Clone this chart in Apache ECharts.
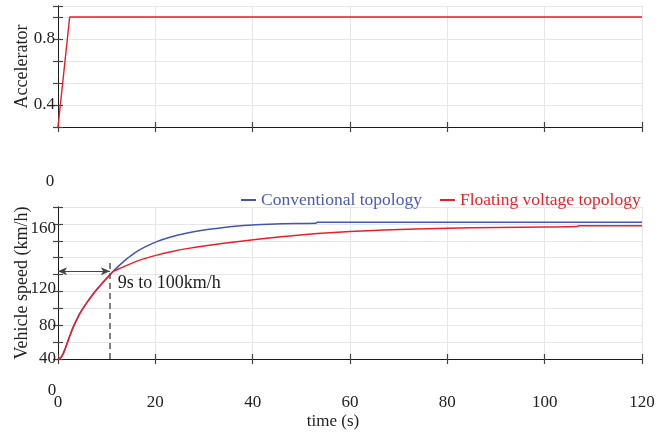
<!DOCTYPE html>
<html>
<head>
<meta charset="utf-8">
<script src="https://cdn.jsdelivr.net/npm/echarts@6/dist/echarts.min.js"></script>
<style>
  html, body { margin: 0; padding: 0; background: #fff; }
  #chart { width: 658px; height: 432px; }
</style>
</head>
<body>
<div id="chart"></div>
<script>
// Accelerator pedal position
const accelTime = [0, 2.4, 120];
const accelValue = [0, 1, 1];

// Shared launch phase (both topologies identical)
const launchTime  = [0, 0.5, 1, 1.5, 2, 2.5, 3, 3.5, 4, 4.5, 5, 6, 7, 8, 9, 10, 10.66, 11.3];
const launchSpeed = [0, 1.3, 5.5, 12.5, 20.5, 28.5, 36, 42.5, 48.5, 54, 58.8, 67.3, 75.2, 82.5, 89.2, 95.5, 99.6, 103.5];

// After the split
const convTime   = [12, 13, 14, 15, 16.5, 18, 20.3, 23, 26.8, 30, 33.7, 37, 40.6, 46, 53, 53.3, 60, 80, 100, 120];
const convSpeed  = [107.6, 113, 118, 122.5, 128.3, 133, 139, 144.2, 149.4, 152.8, 155.5, 157.4, 159, 160.2, 160.7, 162, 162, 162, 162, 162];
const floatTime  = [12, 13.75, 16.5, 20.3, 23.5, 26.8, 30, 33.7, 40.6, 46.4, 53.3, 60, 67, 80, 90, 100, 106.5, 107, 120];
const floatSpeed = [105.4, 110, 116.5, 123, 127.4, 131, 133.9, 136.8, 141.6, 145.2, 148.5, 151, 152.8, 154.8, 155.7, 156.3, 156.8, 157.7, 157.7];

// Tick label texts keyed by tick value
const accelTickValues = [0.2, 0.8];
const accelTickLabels = ['0.4', '0.8'];
const speedTickValues = [0, 40, 80, 160];
const speedTickLabels = ['40', '80', '120', '160'];

// Annotation: time to 100 km/h
const markTime = 10.66;
const markTop = 115;
const arrowSpeed = 104;
const noteTime = 12.3;
const noteSpeed = 90;
const noteText = '9s to 100km/h';

const seriesNames = ['Conventional topology', 'Floating voltage topology'];

const FONT = 'Liberation Serif';
const BLUE = '#4256b2';
const RED = '#ec1f27';

function zip(xs, ys) { return xs.map((x, i) => [x, ys[i]]); }

const convData = zip(launchTime.concat(convTime), launchSpeed.concat(convSpeed));
const floatData = zip(launchTime.concat(floatTime), launchSpeed.concat(floatSpeed));
const accelData = zip(accelTime, accelValue);

const axisLine = { show: true, lineStyle: { color: '#1a1a1a', width: 1 } };
const tickIn = { show: true, inside: true, length: 5, lineStyle: { color: '#444', width: 1.2 } };
const grid = { show: true, lineStyle: { color: '#e6e6e6', width: 1 } };
const labelStyle = { fontFamily: FONT, fontSize: 17, color: '#222' };

function xAxes(gridIndex, withLabels) {
  const main = {
    type: 'value', gridIndex, position: 'bottom', min: 0, max: 120, interval: 20,
    axisLine, axisTick: tickIn, splitLine: grid,
    axisLabel: withLabels ? Object.assign({ show: true, margin: 35 }, labelStyle) : { show: false }
  };
  if (withLabels) {
    main.name = 'time (s)';
    main.nameLocation = 'middle';
    main.nameGap = 54;
    main.nameMoveOverlap = false;
    main.nameTextStyle = { fontFamily: FONT, fontSize: 17, color: '#222', padding: [0, 34, 0, 0] };
  }
  const top = {
    type: 'value', gridIndex, position: 'top', min: 0, max: 120, interval: 20,
    axisLine, axisTick: tickIn, splitLine: { show: false }, axisLabel: { show: false }
  };
  return [main, top];
}

const chart = echarts.init(document.getElementById('chart'), null, { renderer: 'canvas' });

const lineShape = { smooth: 0.25, showSymbol: false };

chart.setOption({
  animation: false,
  backgroundColor: '#fff',
  grid: [
    { left: 58, right: 16, top: 6, height: 121, containLabel: false, outerBoundsMode: 'none' },
    { left: 58, right: 16, top: 207, height: 152, containLabel: false, outerBoundsMode: 'none' }
  ],
  legend: {
    left: 236, top: 186, icon: 'rect', itemWidth: 15, itemHeight: 2, itemGap: 18,
    textStyle: { fontFamily: FONT, fontSize: 17.5 },
    data: [
      { name: seriesNames[0], textStyle: { color: '#4a5ab8' } },
      { name: seriesNames[1], textStyle: { color: '#e8232b' } }
    ]
  },
  xAxis: xAxes(0, false).concat(xAxes(1, true)),
  yAxis: [
    {
      type: 'value', gridIndex: 0, position: 'left', min: 0, max: 1.1, interval: 0.2,
      axisLine, axisTick: tickIn, splitLine: grid,
      name: 'Accelerator', nameLocation: 'middle', nameGap: 27, nameMoveOverlap: false,
      nameTextStyle: { fontFamily: FONT, fontSize: 18, color: '#222' },
      axisLabel: Object.assign({ margin: 3, formatter: v => {
        const i = accelTickValues.indexOf(Math.round(v * 10) / 10);
        return i >= 0 ? accelTickLabels[i] : '';
      } }, labelStyle)
    },
    {
      type: 'value', gridIndex: 0, position: 'right', min: 0, max: 1.1, interval: 0.2,
      axisLine, axisTick: tickIn, splitLine: { show: false }, axisLabel: { show: false }
    },
    {
      type: 'value', gridIndex: 1, position: 'left', min: 0, max: 180, interval: 20,
      axisLine, axisTick: tickIn, splitLine: grid,
      name: 'Vehicle speed (km/h)', nameLocation: 'middle', nameGap: 27, nameMoveOverlap: false,
      nameTextStyle: { fontFamily: FONT, fontSize: 18, color: '#222' },
      axisLabel: Object.assign({
        margin: 2,
        formatter: v => {
          const i = speedTickValues.indexOf(v);
          if (i < 0) return '';
          if (v === 160) return '{low|' + speedTickLabels[i] + '}';
          if (v === 80) return '{up|' + speedTickLabels[i] + '}';
          return speedTickLabels[i];
        },
        rich: {
          low: { fontFamily: FONT, fontSize: 17, color: '#222', padding: [10, 0, 0, 0] },
          up: { fontFamily: FONT, fontSize: 17, color: '#222', padding: [0, 0, 6, 0] }
        }
      }, labelStyle)
    },
    {
      type: 'value', gridIndex: 1, position: 'right', min: 0, max: 180, interval: 20,
      axisLine, axisTick: tickIn, splitLine: { show: false }, axisLabel: { show: false }
    }
  ],
  graphic: [
    { type: 'text', x: 50, y: 182, style: { text: '0', font: '17px "Liberation Serif"', fill: '#222', textAlign: 'center', textVerticalAlign: 'middle' } },
    { type: 'text', x: 52, y: 391, style: { text: '0', font: '17px "Liberation Serif"', fill: '#222', textAlign: 'center', textVerticalAlign: 'middle' } }
  ],
  series: [
    {
      name: 'Accelerator', type: 'line', xAxisIndex: 0, yAxisIndex: 0,
      data: accelData, showSymbol: false, lineStyle: { color: '#e81c24', width: 1.4 }
    },
    Object.assign({
      name: seriesNames[0], type: 'line', xAxisIndex: 2, yAxisIndex: 2,
      data: convData, color: BLUE, lineStyle: { color: BLUE, width: 1.5 }
    }, lineShape),
    Object.assign({
      name: seriesNames[1], type: 'line', xAxisIndex: 2, yAxisIndex: 2,
      data: floatData, color: RED, lineStyle: { color: RED, width: 1.5 },
      markLine: {
        silent: true, animation: false,
        label: { show: false },
        data: [
          [
            { coord: [markTime, 0], symbol: 'none', lineStyle: { color: '#555', width: 1.5, type: [6, 4] } },
            { coord: [markTime, markTop], symbol: 'none' }
          ],
          [
            { coord: [0, arrowSpeed], symbol: 'arrow', symbolSize: [6, 9], lineStyle: { color: '#444', width: 1.2, type: 'solid' } },
            { coord: [markTime, arrowSpeed], symbol: 'arrow', symbolSize: [6, 9] }
          ]
        ]
      },
      markPoint: {
        silent: true, animation: false,
        symbol: 'circle', symbolSize: 0,
        itemStyle: { color: 'rgba(0,0,0,0)' },
        label: { show: true, position: 'right', distance: 0, fontFamily: FONT, fontSize: 18, color: '#222', formatter: noteText },
        data: [{ coord: [noteTime, noteSpeed] }]
      }
    }, lineShape)
  ]
});
</script>
</body>
</html>
